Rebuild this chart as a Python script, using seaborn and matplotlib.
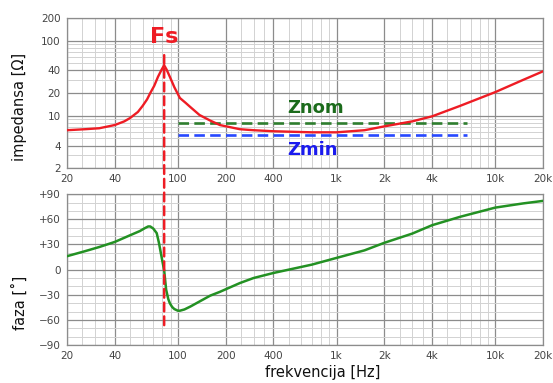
import pandas as pd
import matplotlib.pyplot as plt
import seaborn as sns
from matplotlib.ticker import FixedLocator, FixedFormatter, NullFormatter
from matplotlib.patches import ConnectionPatch

# impedance curve
freq_z = [20, 26, 32, 40, 46, 50, 56, 60, 64, 67, 71, 75, 79, 82, 85, 89, 95, 103,
          112, 120, 137, 160, 184, 246, 300, 400, 700, 1000, 1500, 2000, 3000, 4000,
          6000, 10000, 15000, 20000]
imp = [6.4, 6.6, 6.8, 7.5, 8.4, 9.3, 11.2, 13.5, 16.5, 20, 25, 33, 41, 47, 41, 33, 24, 17.2,
       14.8, 13.0, 10.2, 8.6, 7.5, 6.6, 6.4, 6.2, 6.0, 6.0, 6.4, 7.2, 8.4, 9.8,
       13.5, 20.6, 30, 39]

# phase curve
freq_ph = [20, 26, 32, 40, 50, 57.6, 62, 65, 67, 70, 73.6, 76, 79, 82, 84.4, 87, 89,
           92, 95, 100, 103, 110, 120, 137, 160, 184, 246, 300, 400, 700, 1000, 1500,
           2000, 3000, 4000, 6000, 10000, 15000, 20000]
phase = [16, 22, 27, 33, 41, 46, 49.5, 51.5, 51.5, 49, 43.5, 32, 15, -1, -24, -35, -40,
         -44.5, -47, -49, -49, -47.5, -44, -38, -31, -26.5, -16, -10, -4, 6, 14, 23,
         32, 43, 53, 63, 74, 79, 82]

fs = 82
fs_top = 64
fs_bottom = -70
z_nom = 8.0
z_min = 5.5
z_lines_from = 100
z_lines_to = 6600

x_ticks = [20, 40, 100, 200, 400, 1000, 2000, 4000, 10000, 20000]
x_labels = ["20", "40", "100", "200", "400", "1k", "2k", "4k", "10k", "20k"]
z_ticks = [2, 4, 10, 20, 40, 100, 200]
ph_ticks = [-90, -60, -30, 0, 30, 60, 90]
ph_labels = ["\u221290", "\u221260", "\u221230", "0", "+30", "+60", "+90"]

sns.set_style("white")
plt.rcParams['font.family'] = ['DejaVu Sans']

red = "#ee1c24"
green = "#239123"

fig = plt.figure(figsize=(5.53, 3.83), dpi=100)
ax1 = fig.add_axes([0.121, 0.561, 0.861, 0.392])
ax2 = fig.add_axes([0.121, 0.099, 0.861, 0.394])

df_z = pd.DataFrame({"f": freq_z, "z": imp})
df_ph = pd.DataFrame({"f": freq_ph, "ph": phase})

sns.lineplot(data=df_z, x="f", y="z", ax=ax1, color=red, lw=1.7, zorder=5)
ax1.hlines(z_nom, z_lines_from, z_lines_to, color="#2e7d2e", lw=1.9,
           linestyles=(0, (4, 2)), zorder=4)
ax1.hlines(z_min, z_lines_from, z_lines_to, color="#2748ff", lw=1.9,
           linestyles=(0, (4, 2)), zorder=4)

sns.lineplot(data=df_ph, x="f", y="ph", ax=ax2, color=green, lw=1.8, zorder=5)

minor_x = [m * 10 ** d for d in range(1, 5) for m in (2, 2.5, 3, 3.5, 4, 5, 6, 7, 8, 9)]
minor_x = [v for v in minor_x if 20 <= v <= 20000 and v not in x_ticks]
minor_z = [m * 10 ** d for d in range(0, 3) for m in range(1, 10)]
minor_z = [v for v in minor_z if 2 <= v <= 200 and v not in z_ticks]

for ax in (ax1, ax2):
    ax.set_xscale("log")
    ax.set_xlim(20, 20000)
    ax.xaxis.set_major_locator(FixedLocator(x_ticks))
    ax.xaxis.set_major_formatter(FixedFormatter(x_labels))
    ax.xaxis.set_minor_locator(FixedLocator(minor_x))
    ax.xaxis.set_minor_formatter(NullFormatter())
    ax.set_xlabel("")
    ax.set_ylabel("")
    ax.set_axisbelow(True)
    ax.grid(which="major", color="#8c8c8c", lw=0.9)
    ax.grid(which="minor", color="#d2d2d2", lw=0.7)
    ax.tick_params(which="major", length=3, width=0.8, color="#777",
                   labelsize=7.5, labelcolor="#444", pad=1.5)
    ax.tick_params(which="minor", length=0)
    for s in ax.spines.values():
        s.set_color("#8c8c8c")
        s.set_linewidth(0.9)

ax1.set_yscale("log")
ax1.set_ylim(2, 200)
ax1.yaxis.set_major_locator(FixedLocator(z_ticks))
ax1.yaxis.set_major_formatter(FixedFormatter([str(t) for t in z_ticks]))
ax1.yaxis.set_minor_locator(FixedLocator(minor_z))
ax1.yaxis.set_minor_formatter(NullFormatter())

ax2.set_ylim(-90, 90)
ax2.yaxis.set_major_locator(FixedLocator(ph_ticks))
ax2.yaxis.set_major_formatter(FixedFormatter(ph_labels))
ax2.yaxis.set_minor_locator(FixedLocator(list(range(-80, 90, 10))))

# resonance marker running through both panels
con = ConnectionPatch(xyA=(fs, fs_top), coordsA=ax1.transData,
                      xyB=(fs, fs_bottom), coordsB=ax2.transData,
                      color=red, lw=1.8, linestyle=(0, (3.5, 2)), zorder=10)
fig.add_artist(con)

ax1.text(fs, 112, "Fs", color=red, fontsize=16, fontweight="bold",
         ha="center", va="center")
ax1.text(740, 12.6, "Znom", color="#1b6b1b", fontsize=13, fontweight="bold",
         ha="center", va="center")
ax1.text(705, 3.5, "Zmin", color="#1a1aee", fontsize=13, fontweight="bold",
         ha="center", va="center")

fig.text(0.036, 1 - 107 / 383, "impedansa [\u03a9]", rotation=90,
         ha="center", va="center", fontsize=10.5, color="#111")
fig.text(0.036, 1 - 303 / 383, "faza [\u02da]", rotation=90,
         ha="center", va="center", fontsize=10.5, color="#111")
fig.text(0.584, 1 - 372 / 383, "frekvencija [Hz]", ha="center", va="center",
         fontsize=10.5, color="#111")

fig.savefig("out.png", dpi=100)
